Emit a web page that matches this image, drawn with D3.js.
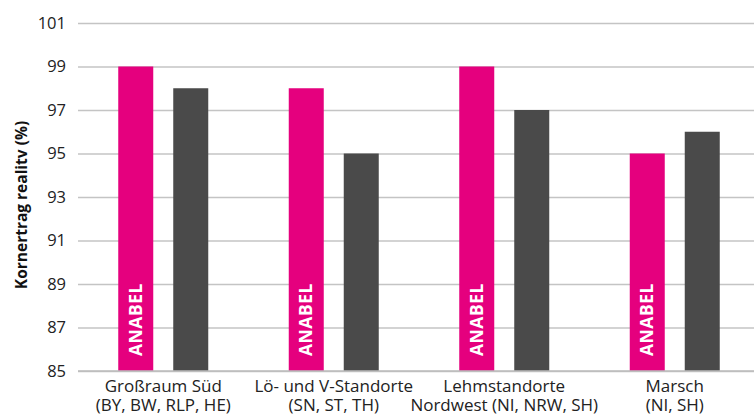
<!DOCTYPE html>
<html><head><meta charset="utf-8">
<script src="https://cdn.jsdelivr.net/npm/d3@7"></script>
<style>body{margin:0;background:#fff;}svg{display:block;font-family:"Open Sans",sans-serif;}</style>
</head><body><svg id="c" width="754" height="414"></svg>
<script>
const categories = [["Großraum Süd","(BY, BW, RLP, HE)"],["Lö- und V-Standorte","(SN, ST, TH)"],["Lehmstandorte","Nordwest (NI, NRW, SH)"],["Marsch","(NI, SH)"]];
const anabel = [99, 98, 99, 95];
const other = [98, 95, 97, 96];
const yTicks = [85, 87, 89, 91, 93, 95, 97, 99, 101];
const barLabel = "ANABEL";
const yTitle = "Kornertrag realitv (%)";

const svg = d3.select("#c");
const x0 = 78, x1 = 760, yTop = 23, yBot = 371;
const x = d3.scaleBand().domain(d3.range(categories.length)).range([x0, x1]);
const y = d3.scaleLinear().domain([85, 101]).range([yBot, yTop]);

const yAxis = d3.axisLeft(y).tickValues(yTicks).tickSize(-(754 - x0)).tickPadding(12);
const ga = svg.append("g").attr("transform", `translate(${x0},0)`).call(yAxis);
ga.select(".domain").remove();
ga.selectAll(".tick line").attr("stroke", "#c4c4c4").attr("stroke-width", 1.5);
ga.selectAll(".tick text").attr("font-size", 16.5).attr("fill", "#222").attr("font-family", "Open Sans");

const bw = 35;
svg.append("g").selectAll("rect").data(anabel).join("rect")
  .attr("x", (d, i) => x(i) + x.bandwidth() / 2 - 45)
  .attr("y", d => y(d)).attr("width", bw).attr("height", d => yBot - y(d))
  .attr("fill", "#E5007E");
svg.append("g").selectAll("rect").data(other).join("rect")
  .attr("x", (d, i) => x(i) + x.bandwidth() / 2 + 10)
  .attr("y", d => y(d)).attr("width", bw).attr("height", d => yBot - y(d))
  .attr("fill", "#4A4A4A");

svg.append("g").selectAll("text").data(anabel).join("text")
  .attr("transform", (d, i) => `translate(${x(i) + x.bandwidth() / 2 - 27.5 + 6},${yBot - 15}) rotate(-90)`)
  .attr("fill", "#fff").attr("font-weight", "bold").attr("font-size", 17.5)
  .attr("letter-spacing", 0.5)
  .text(barLabel);

// baseline
svg.append("line").attr("x1", x0).attr("x2", 754).attr("y1", yBot).attr("y2", yBot)
  .attr("stroke", "#bdbdbd").attr("stroke-width", 1.5);

const gl = svg.append("g").selectAll("text").data(categories).join("text")
  .attr("text-anchor", "middle").attr("font-size", 17).attr("fill", "#222");
gl.each(function (d, i) {
  const t = d3.select(this);
  d.forEach((line, k) => t.append("tspan").attr("x", x(i) + x.bandwidth() / 2).attr("y", 392 + k * 18.5).text(line));
});

svg.append("text").attr("transform", `translate(27,205) rotate(-90)`)
  .attr("text-anchor", "middle").attr("font-weight", "bold").attr("font-size", 15.5).attr("fill", "#111")
  .text(yTitle);
</script></body></html>
